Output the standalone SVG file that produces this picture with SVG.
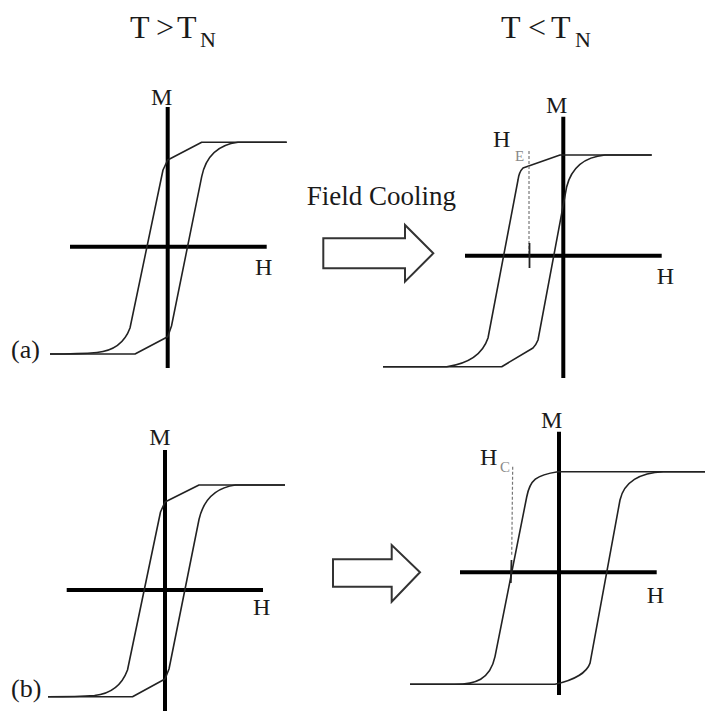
<svg xmlns="http://www.w3.org/2000/svg" width="705" height="711" viewBox="0 0 705 711">
<style>
text{font-family:"Liberation Serif","Times New Roman",serif;fill:#1a1a1a}
.ttl{font-size:32px}
.sub{font-size:22px}
.lab{font-size:24px}
.pl{font-size:26px}
.sm{font-size:15px;fill:#888}
.axis{stroke:#000;stroke-width:4;fill:none}
.loop{stroke:#222;stroke-width:1.6;fill:none;stroke-linejoin:round}
.dash{stroke:#777;stroke-width:1.2;stroke-dasharray:3 2;fill:none}
.tick{stroke:#222;stroke-width:1.8}
.arr{fill:#fff;stroke:#333;stroke-width:2;stroke-linejoin:miter}
</style>
<rect width="705" height="711" fill="#fff"/>
<g id="title-left">
<text class="ttl" x="130" y="38">T</text><text class="ttl" x="156" y="38">&gt;</text><text class="ttl" x="177" y="38">T</text><text class="sub" x="200" y="47">N</text>
</g>
<g id="title-right">
<text class="ttl" x="501" y="38">T</text><text class="ttl" x="528" y="38">&lt;</text><text class="ttl" x="551" y="38">T</text><text class="sub" x="575" y="47">N</text>
</g>
<g id="panel-a-left">
<line class="axis" x1="167.7" y1="107" x2="167.7" y2="368"/>
<line class="axis" x1="70" y1="246.7" x2="266.7" y2="246.7"/>
<path class="loop" d="M286.7 142.3 L201.7 142.3 L167.7 160 L163 170 L130 328 Q122 350 97 352.5 Q80 354 50 354"/>
<path class="loop" d="M50 354 L135 354 L167.7 336.7 L171.5 326 L201.7 176.7 Q208 146 238 142.3 L286.7 142.3"/>
<text class="lab" x="161.7" y="105" text-anchor="middle">M</text>
<text class="lab" x="255" y="275">H</text>
<text class="pl" x="11" y="358">(a)</text>
</g>
<g id="panel-a-right">
<line class="axis" x1="563.3" y1="116.7" x2="563.3" y2="378"/>
<line class="axis" x1="465" y1="255.7" x2="661.7" y2="255.7"/>
<path class="loop" d="M651.7 155 L560 155 L523 168 Q519 172 518 180 L488 338 Q480 362 446.7 366.7 L383 366.7"/>
<path class="loop" d="M383 366.7 L501.7 366.7 L533 348 Q536 345 538 340 L566.7 186.7 Q574 158 605 155 L651.7 155"/>
<line class="dash" x1="529" y1="151" x2="529" y2="254"/>
<line class="tick" x1="529.5" y1="243" x2="529.5" y2="268"/>
<text class="lab" x="493" y="146.7">H</text><text class="sm" x="515" y="161">E</text>
<text class="lab" x="656.7" y="284">H</text>
<text class="lab" x="556.7" y="113" text-anchor="middle">M</text>
</g>
<g id="panel-b-left">
<line class="axis" x1="165" y1="450" x2="165" y2="711"/>
<line class="axis" x1="66.7" y1="590" x2="263" y2="590"/>
<path class="loop" d="M285 485 L199 485 L165 502 L160.5 512 L127.5 670 Q119 693 94.5 695.5 Q78 696.7 48 696.7"/>
<path class="loop" d="M48 696.7 L132.5 696.7 L165 679 L169 669 L199 519.5 Q206 489 235.5 485 L285 485"/>
<text class="lab" x="160" y="445" text-anchor="middle">M</text>
<text class="lab" x="253" y="615">H</text>
<text class="pl" x="11" y="697">(b)</text>
</g>
<g id="panel-b-right">
<line class="axis" x1="559" y1="431.7" x2="559" y2="695"/>
<line class="axis" x1="460" y1="572.3" x2="656.7" y2="572.3"/>
<path class="loop" d="M705 471.7 L558 471.7 C536 475 530 480 526.7 497 L495 656.7 C490 680 475 684.3 455 684.3 L410 684.3"/>
<path class="loop" d="M410 684.3 L555 684.3 C575 680 587 672 590 663.3 L620 500 C624 482 640 472.5 663.3 471.7 L705 471.7"/>
<line class="dash" x1="512.7" y1="466.7" x2="511.7" y2="556"/>
<line class="tick" x1="511.5" y1="560" x2="510.8" y2="583"/>
<text class="lab" x="480" y="465">H</text><text class="sm" x="500" y="472">C</text>
<text class="lab" x="646.7" y="603.3">H</text>
<text class="lab" x="551.7" y="428" text-anchor="middle">M</text>
</g>
<g id="connectors">
<path class="arr" d="M323.3 238.3 L405 238.3 L405 225 L433.3 253.3 L405 281.7 L405 268.3 L323.3 268.3 Z"/>
<text style="font-size:27px" x="306.7" y="205">Field Cooling</text>
<path class="arr" d="M333 559.3 L391.7 559.3 L391.7 545 L420 572.3 L391.7 601.7 L391.7 586.7 L333 586.7 Z"/>
</g>
</svg>
